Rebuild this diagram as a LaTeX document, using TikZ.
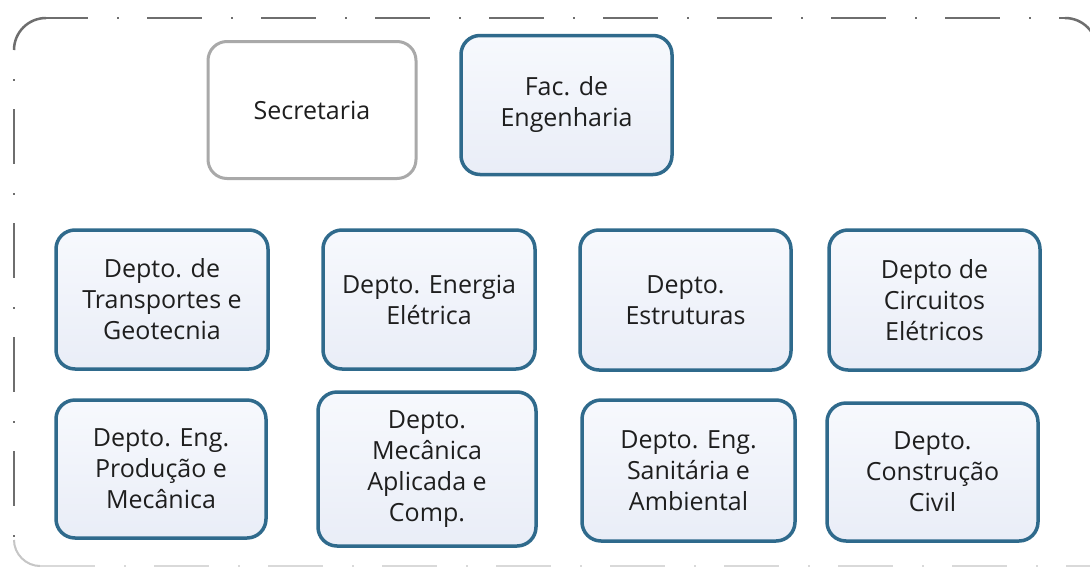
\documentclass[tikz,border=0pt]{standalone}
\usepackage{fontspec}
\setmainfont{Open Sans}
\definecolor{boxline}{HTML}{2F6A8C}
\definecolor{boxtop}{HTML}{F7F9FD}
\definecolor{boxbot}{HTML}{E9EDF7}
\definecolor{secline}{HTML}{A9A9A9}
\definecolor{frameline}{HTML}{6E6E6E}
\definecolor{txt}{HTML}{1E1E1E}
\tikzset{
  deptbox/.style={draw=boxline, line width=3.5pt, rounded corners=19pt,
    top color=boxtop, bottom color=boxbot, align=center, text=txt,
    font=\fontsize{25}{31}\selectfont, inner sep=0pt},
  secbox/.style={draw=secline, line width=3pt, rounded corners=19pt,
    fill=white, align=center, text=txt,
    font=\fontsize{25}{31}\selectfont, inner sep=0pt},
  framepat/.style={draw=frameline, line width=2.5pt,
    dash pattern=on 55pt off 29pt on 2pt off 28pt},
  framesolid/.style={draw=frameline, line width=2.5pt},
  framefaint/.style={draw=gray!30, line width=2pt,
    dash pattern=on 55pt off 29pt on 2pt off 28pt}
}
\begin{document}
\begin{tikzpicture}[x=1pt,y=-1pt]
\useasboundingbox (0,0) rectangle (1090,571);
\fill[white] (0,0) rectangle (1090,571);
% outer dash-dot frame
\begin{scope}
\clip (0,0) rectangle (1090,571);
\coordinate (tl1) at (14,50);
\coordinate (tl2) at (46,18);
\coordinate (tr1) at (1065,18);
\coordinate (tr2) at (1097,50);
\coordinate (bl1) at (14,540);
\coordinate (bl2) at (40,566);
\coordinate (br) at (1100,566);
\draw[framesolid] (tl1) .. controls (14,32.3) and (28.3,18) .. (tl2);
\draw[framepat, dash phase=13pt] (tl2) -- (tr1);
\draw[framesolid] (tr1) .. controls (1082.7,18) and (1097,32.3) .. (tr2);
\draw[framepat, dash phase=55pt] (tl1) -- (bl1);
\draw[draw=gray!45, line width=2pt] (bl1) .. controls (14,554) and (26,566) .. (bl2);
\draw[framefaint] (bl2) -- (br);
\end{scope}
% top boxes
\node[secbox, minimum width=208pt, minimum height=137pt] (sec) at (312,110) {Secretaria};
\node[deptbox, minimum width=211pt, minimum height=139pt] (fac) at (566.5,105) {Fac. de\\Engenharia};
% row 1
\node[deptbox, minimum width=212pt, minimum height=139pt] (transp) at (162,299.5) {Depto. de\\Transportes e\\Geotecnia};
\node[deptbox, minimum width=212pt, minimum height=139pt] (energia) at (429,299.5) {Depto. Energia\\Elétrica};
\node[deptbox, minimum width=211pt, minimum height=140pt] (estrut) at (685.5,300) {Depto.\\Estruturas};
\node[deptbox, minimum width=211pt, minimum height=140pt] (circ) at (934.5,300) {Depto de\\Circuitos\\Elétricos};
% row 2
\node[deptbox, minimum width=210pt, minimum height=138pt] (prod) at (161,469) {Depto. Eng.\\Produção e\\Mecânica};
\node[deptbox, minimum width=218pt, minimum height=154pt] (mecap) at (427,469) {Depto.\\Mecânica\\Aplicada e\\Comp.};
\node[deptbox, minimum width=213pt, minimum height=141pt] (sanit) at (688.5,470.5) {Depto. Eng.\\Sanitária e\\Ambiental};
\node[deptbox, minimum width=211pt, minimum height=138pt] (constr) at (932.5,472) {Depto.\\Construção\\Civil};
\end{tikzpicture}
\end{document}
